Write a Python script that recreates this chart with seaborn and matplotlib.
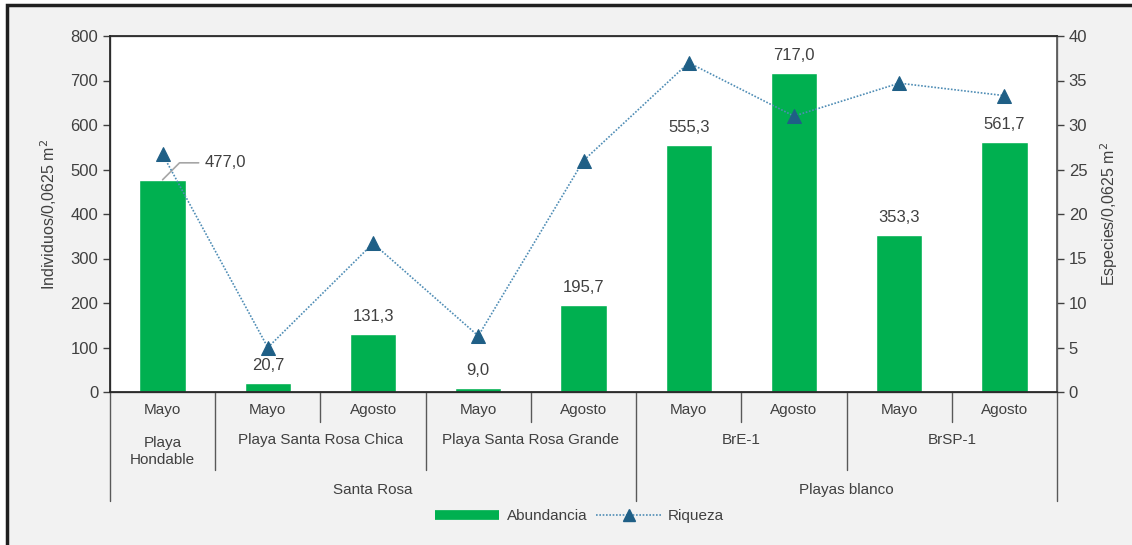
import matplotlib
matplotlib.use("Agg")
import matplotlib.pyplot as plt
import matplotlib.transforms as mtransforms
from matplotlib.lines import Line2D
from matplotlib.patches import Rectangle
import seaborn as sns
import pandas as pd
import numpy as np

# data
months = ["Mayo", "Mayo", "Agosto", "Mayo", "Agosto", "Mayo", "Agosto", "Mayo", "Agosto"]
sites = ["Playa\nHondable", "Playa Santa Rosa Chica", "Playa Santa Rosa Grande", "BrE-1", "BrSP-1"]
site_spans = [1, 2, 2, 2, 2]
regions = ["Santa Rosa", "Playas blanco"]
region_spans = [5, 4]
abundancia = [477.0, 20.7, 131.3, 9.0, 195.7, 555.3, 717.0, 353.3, 561.7]
riqueza = [26.7, 5.0, 16.7, 6.3, 26.0, 37.0, 31.0, 34.7, 33.3]

sns.set_theme(style="white")
plt.rcParams["font.family"] = ["Liberation Sans", "DejaVu Sans"]

TXT = "#404040"
GREEN = "#00b050"
MARK = "#1f5f86"
LINE = "#4f8db5"

df = pd.DataFrame({"pos": np.arange(len(months)), "abundancia": abundancia, "riqueza": riqueza})

fig = plt.figure(figsize=(11.32, 5.45), dpi=100, facecolor="white")
# grey panel with dark frame on left and top (screenshot crop)
fig.patches.append(Rectangle((7 / 1132, -0.1), 1.2, 1 - 5 / 545 + 0.1, transform=fig.transFigure,
                             facecolor="#f2f2f2", edgecolor="#202020", linewidth=2.5, zorder=-10))

ax = fig.add_axes([110 / 1132, 1 - 392 / 545, (1057 - 110) / 1132, 356 / 545])
ax.set_facecolor("white")
sns.barplot(data=df, x="pos", y="abundancia", color=GREEN, width=0.44, saturation=1, ax=ax, zorder=2)
ax.set_xlim(-0.5, 8.5)
ax.set_ylim(0, 800)
ax.set_yticks(range(0, 801, 100))
ax.set_xticks([])
ax.set_xlabel("")
ax.set_ylabel("Individuos/0,0625 m$^2$", fontsize=11.5, color=TXT, labelpad=8)
ax.tick_params(axis="y", labelsize=12, colors=TXT, length=5, width=1, direction="out", left=True)
for s in ax.spines.values():
    s.set_color("#7f7f7f")
    s.set_linewidth(1)
ax.spines["left"].set_color("#595959")
ax.spines["bottom"].set_color("#595959")

ax2 = ax.twinx()
sns.lineplot(data=df, x="pos", y="riqueza", ax=ax2, color=LINE, linewidth=1.2,
             linestyle=(0, (1, 1)), marker="^", markersize=10, markerfacecolor=MARK,
             markeredgecolor=MARK, zorder=3)
ax2.set_ylim(0, 40)
ax2.set_yticks(range(0, 41, 5))
ax2.set_ylabel("Especies/0,0625 m$^2$", fontsize=11.5, color=TXT, labelpad=8)
ax2.tick_params(axis="y", labelsize=12, colors=TXT, length=5, width=1, direction="out", right=True)
ax2.spines["right"].set_color("#595959")
ax2.set_xlim(-0.5, 8.5)

# bar value labels
for i, v in enumerate(abundancia):
    lab = f"{v:.1f}".replace(".", ",")
    if i == 0:
        ax.annotate(lab, xy=(i, v), xytext=(i + 0.4, v + 38), fontsize=12, color=TXT,
                    va="center", ha="left",
                    arrowprops=dict(arrowstyle="-", color="#a6a6a6", lw=1.2,
                                    connectionstyle="angle,angleA=0,angleB=45,rad=0",
                                    shrinkA=2, shrinkB=0))
    else:
        ax.annotate(lab, xy=(i, v), xytext=(0, 7), textcoords="offset points",
                    ha="center", va="bottom", fontsize=12, color=TXT)

# multi-level category axis
trans = mtransforms.blended_transform_factory(ax.transData, ax.transAxes)
lc = "#595959"


def vline(x, y1):
    ax.add_line(Line2D([x, x], [0, y1], transform=trans, color=lc, lw=1, clip_on=False))


for i, m in enumerate(months):
    ax.text(i, -0.05, m, transform=trans, ha="center", va="center", fontsize=11, color=TXT)

b = -0.5
for name, span in zip(sites, site_spans):
    c = b + span / 2
    two = "\n" in name
    ax.text(c, -0.125 if two else -0.135, name, transform=trans, ha="center",
            va="top" if two else "center", fontsize=11, color=TXT, linespacing=1.2)
    for k in range(1, span):
        vline(b + k, -0.085)
    b += span

b = -0.5
vline(b, -0.305)
for name, span in zip(regions, region_spans):
    c = b + span / 2
    ax.text(c, -0.275, name, transform=trans, ha="center", va="center", fontsize=11, color=TXT)
    b += span
    vline(b, -0.305)

# site boundaries inside regions
b = -0.5
region_edges = np.cumsum(region_spans) - 0.5
for span in site_spans[:-1]:
    b += span
    if not np.any(np.isclose(region_edges, b)):
        vline(b, -0.22)

# legend
handles = [Line2D([], [], color=GREEN, lw=7, solid_capstyle="butt"),
           Line2D([], [], color=LINE, lw=1.2, linestyle=(0, (1, 1)), marker="^", markersize=9,
                  markerfacecolor=MARK, markeredgecolor=MARK)]
fig.legend(handles, ["Abundancia", "Riqueza"], loc="center", bbox_to_anchor=(0.512, 1 - 516 / 545),
           ncol=2, frameon=False, fontsize=11, handlelength=4.2, columnspacing=0.6, handletextpad=0.5,
           labelcolor=TXT)

fig.savefig("out.png", dpi=100, facecolor=fig.get_facecolor())
